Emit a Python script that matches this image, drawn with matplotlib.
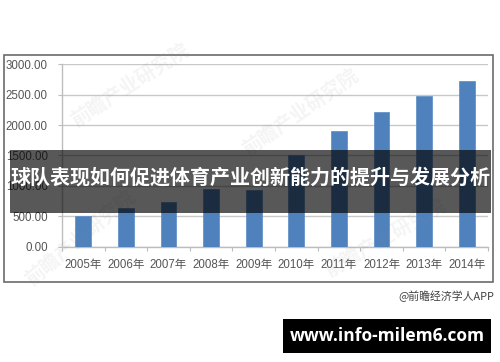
import matplotlib
matplotlib.use("Agg")
import matplotlib.pyplot as plt
from matplotlib.patches import Rectangle
import numpy as np

plt.rcParams['font.family'] = ['Liberation Sans', 'Noto Sans CJK SC', 'DejaVu Sans']

# ---- data ----
years = ['2005年', '2006年', '2007年', '2008年', '2009年',
         '2010年', '2011年', '2012年', '2013年', '2014年']
values = [505, 630, 730, 950, 940, 1515, 1900, 2220, 2475, 2730]
yticks = [0, 500, 1000, 1500, 2000, 2500, 3000]
title = '球队表现如何促进体育产业创新能力的提升与发展分析'
source = '@前瞻经济学人APP'
site = 'www.info-milem6.com'
watermark = '前瞻产业研究院'

W, H = 500, 362
fig = plt.figure(figsize=(W / 100, H / 100), dpi=100)
fig.patch.set_facecolor('white')


def fx(px):
    return px / W


def fy(py):
    return 1 - py / H


def frect(x0, y0, x1, y1, **kw):
    r = Rectangle((fx(x0), fy(y1)), fx(x1) - fx(x0), fy(y0) - fy(y1),
                  transform=fig.transFigure, **kw)
    fig.patches.append(r)
    return r


# outer chart frame
frect(3.5, 55.5, 492.5, 282, fill=False, edgecolor='#6b6b6b', lw=1.2, zorder=1)

# axes
ax_l, ax_r, ax_t, ax_b = 62, 488, 64.3, 246.7
ax = fig.add_axes([fx(ax_l), fy(ax_b), fx(ax_r) - fx(ax_l), fy(ax_t) - fy(ax_b)])
ax.set_facecolor('none')
x = np.arange(len(years))
ax.bar(x, values, width=0.37, color='#4F81BD', edgecolor='#5A8AC6', lw=0.5, zorder=3)
ax.set_xlim(-0.5, len(years) - 0.5)
ax.set_ylim(0, 3000)
ax.set_yticks(yticks)
ax.set_yticklabels([f'{v:.2f}' for v in yticks])
ax.yaxis.grid(True, color='#C8C8C8', lw=1)
ax.set_axisbelow(True)
for s in ['top', 'right']:
    ax.spines[s].set_visible(False)
for s in ['left', 'bottom']:
    ax.spines[s].set_color('#BDBDBD')
    ax.spines[s].set_linewidth(1)
ax.tick_params(axis='y', length=3, color='#BDBDBD', pad=7.2,
               labelsize=8.3, labelcolor='#555555')
ax.set_xticks(np.arange(-0.5, len(years), 1.0))
ax.set_xticklabels([])
ax.set_xticks(x, minor=True)
ax.set_xticklabels(years, minor=True)
ax.tick_params(axis='x', which='major', length=3, color='#BDBDBD')
ax.tick_params(axis='x', which='minor', length=0, pad=8.5,
               labelsize=8.3, labelcolor='#555555')

# faint watermarks
wm_pos = [(130, 85, 33), (300, 112, 35), (80, 238, 40), (385, 238, 30)]
for (px, py, rot) in wm_pos:
    fig.text(fx(px), fy(py), watermark, fontsize=14, color='#888888', alpha=0.09,
             rotation=rot, ha='center', va='center', fontweight='bold',
             family=['Noto Sans CJK SC'], zorder=4)

# dark overlay band with title
frect(10, 150, 491, 213, facecolor='black', alpha=0.655, edgecolor='none', zorder=5)
fig.text(fx(250.5), fy(177), title, color='white', fontsize=14.4, fontweight='bold',
         ha='center', va='center', family=['Noto Sans CJK SC'], zorder=6)

# source text
fig.text(fx(494), fy(296.5), source, color='#404040', fontsize=7.8,
         ha='right', va='center', family=['Noto Sans CJK SC', 'Liberation Sans'])

# black box with site
frect(283, 319, 491, 352.5, facecolor='black', edgecolor='none', zorder=5)
fig.text(fx(387), fy(336), site, color='white', fontsize=12.5, fontweight='bold',
         ha='center', va='center', family=['Open Sans', 'DejaVu Sans'], zorder=6)

fig.savefig('out.png', dpi=100, facecolor='white')
